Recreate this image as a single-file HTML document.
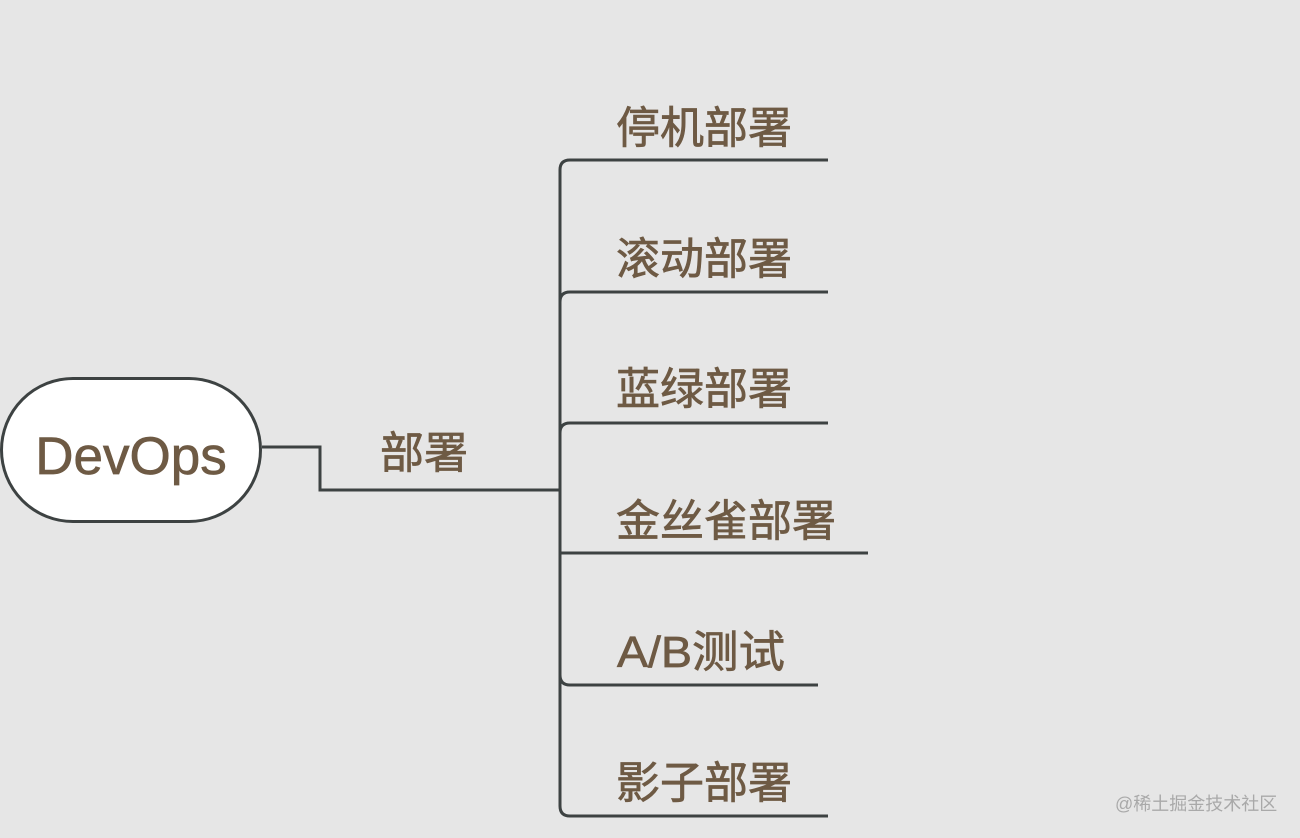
<!DOCTYPE html>
<html><head><meta charset="utf-8"><style>
html,body{margin:0;padding:0;background:#e6e6e6;}
svg{display:block}
text{font-family:"Liberation Sans","Noto Sans CJK SC",sans-serif;fill:#6e5a44;stroke:#6e5a44;stroke-width:0.7;}
</style></head><body>
<svg width="1300" height="838" viewBox="0 0 1300 838" xmlns="http://www.w3.org/2000/svg">
<rect width="1300" height="838" fill="#e6e6e6"/>
<g fill="none" stroke="#3d4242" stroke-width="3">
<rect x="1.5" y="378.5" width="259" height="143" rx="71.5" fill="#ffffff"/>
<path d="M262 447 H320 V490 H560"/>
<path d="M560 490 V170 Q560 160 570 160 H828"/>
<path d="M560 302 Q560 292 570 292 H828"/>
<path d="M560 433 Q560 423 570 423 H828"/>
<path d="M560 490 V806 Q560 816 570 816 H828"/>
<path d="M560 553 H868"/>
<path d="M560 675 Q560 685 570 685 H818"/>
</g>
<text x="131" y="474" font-size="53" text-anchor="middle">DevOps</text>
<text x="380" y="468" font-size="44">部署</text>
<text x="616" y="143" font-size="44">停机部署</text>
<text x="616" y="274" font-size="44">滚动部署</text>
<text x="616" y="404" font-size="44">蓝绿部署</text>
<text x="616" y="536" font-size="44">金丝雀部署</text>
<text x="617" y="667" font-size="44" textLength="168" lengthAdjust="spacingAndGlyphs">A/B测试</text>
<text x="616" y="798" font-size="44">影子部署</text>
<text x="1115" y="810" font-size="18" style="fill:#a9a9a9;stroke:none">@稀土掘金技术社区</text>
</svg>
</body></html>
